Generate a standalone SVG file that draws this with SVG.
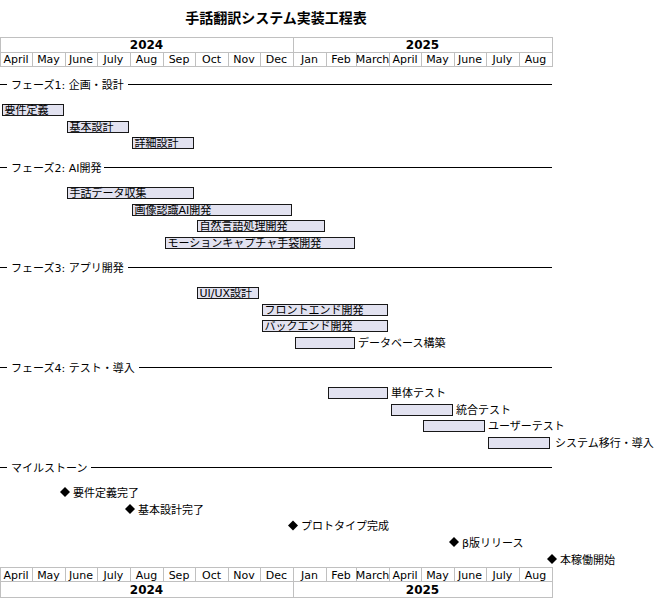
<svg xmlns="http://www.w3.org/2000/svg" width="654" height="599" viewBox="0 0 654 599">
<style>
text{font-family:"DejaVu Sans","Noto Sans CJK JP",sans-serif;fill:#000;font-size:11px}
.title{font-size:14px;font-weight:bold}
.year{font-size:12px;font-weight:bold}
.m{text-anchor:middle}
.grid{stroke:#C0C0C0;stroke-width:1;fill:none}
.sep{stroke:#000;stroke-width:1}
.bar{fill:#E2E2F0;stroke:#181818;stroke-width:1}
.ms{fill:#000}
</style>
<rect width="654" height="599" fill="#fff"/>
<text class="title m" x="276" y="23">手話翻訳システム実装工程表</text>

<g id="header-top">
<rect class="grid" x="0.5" y="37.5" width="552" height="29"/>
<line class="grid" x1="0.5" y1="52.5" x2="552.5" y2="52.5"/>
<line class="grid" x1="293.5" y1="37.5" x2="293.5" y2="66.5"/>
<path class="grid" d="M32.5 52.5V66.5M65.5 52.5V66.5M97.5 52.5V66.5M130.5 52.5V66.5M163.5 52.5V66.5M195.5 52.5V66.5M228.5 52.5V66.5M260.5 52.5V66.5M326.5 52.5V66.5M356.5 52.5V66.5M389.5 52.5V66.5M421.5 52.5V66.5M454.5 52.5V66.5M486.5 52.5V66.5M519.5 52.5V66.5"/>
<text class="year m" x="146.5" y="48.5">2024</text>
<text class="year m" x="422.5" y="48.5">2025</text>
<text class="m" x="16" y="63">April</text><text class="m" x="48.5" y="63">May</text><text class="m" x="81" y="63">June</text><text class="m" x="113.5" y="63">July</text><text class="m" x="146.5" y="63">Aug</text><text class="m" x="179" y="63">Sep</text><text class="m" x="211.5" y="63">Oct</text><text class="m" x="244" y="63">Nov</text><text class="m" x="276.5" y="63">Dec</text><text class="m" x="309.5" y="63">Jan</text><text class="m" x="341" y="63">Feb</text><text class="m" x="372.5" y="63">March</text><text class="m" x="405" y="63">April</text><text class="m" x="437.5" y="63">May</text><text class="m" x="470" y="63">June</text><text class="m" x="502.5" y="63">July</text><text class="m" x="535.5" y="63">Aug</text>
</g>

<g id="header-bottom">
<rect class="grid" x="0.5" y="567.5" width="552" height="30"/>
<line class="grid" x1="0.5" y1="581.5" x2="552.5" y2="581.5"/>
<line class="grid" x1="293.5" y1="567.5" x2="293.5" y2="597.5"/>
<path class="grid" d="M32.5 567.5V581.5M65.5 567.5V581.5M97.5 567.5V581.5M130.5 567.5V581.5M163.5 567.5V581.5M195.5 567.5V581.5M228.5 567.5V581.5M260.5 567.5V581.5M326.5 567.5V581.5M356.5 567.5V581.5M389.5 567.5V581.5M421.5 567.5V581.5M454.5 567.5V581.5M486.5 567.5V581.5M519.5 567.5V581.5"/>
<text class="m" x="16" y="578.5">April</text><text class="m" x="48.5" y="578.5">May</text><text class="m" x="81" y="578.5">June</text><text class="m" x="113.5" y="578.5">July</text><text class="m" x="146.5" y="578.5">Aug</text><text class="m" x="179" y="578.5">Sep</text><text class="m" x="211.5" y="578.5">Oct</text><text class="m" x="244" y="578.5">Nov</text><text class="m" x="276.5" y="578.5">Dec</text><text class="m" x="309.5" y="578.5">Jan</text><text class="m" x="341" y="578.5">Feb</text><text class="m" x="372.5" y="578.5">March</text><text class="m" x="405" y="578.5">April</text><text class="m" x="437.5" y="578.5">May</text><text class="m" x="470" y="578.5">June</text><text class="m" x="502.5" y="578.5">July</text><text class="m" x="535.5" y="578.5">Aug</text>
<text class="year m" x="146.5" y="593.5">2024</text>
<text class="year m" x="422.5" y="593.5">2025</text>
</g>

<g id="separators">
<g id="phase1"><line class="sep" x1="0" y1="84.5" x2="7" y2="84.5"/><text x="11" y="88.5">フェーズ1: 企画・設計</text><line class="sep" x1="128" y1="84.5" x2="552" y2="84.5"/></g>
<g id="phase2"><line class="sep" x1="0" y1="167.5" x2="7" y2="167.5"/><text x="11" y="171.5">フェーズ2: AI開発</text><line class="sep" x1="104" y1="167.5" x2="552" y2="167.5"/></g>
<g id="phase3"><line class="sep" x1="0" y1="267.5" x2="7" y2="267.5"/><text x="11" y="271.5">フェーズ3: アプリ開発</text><line class="sep" x1="128" y1="267.5" x2="552" y2="267.5"/></g>
<g id="phase4"><line class="sep" x1="0" y1="367.5" x2="7" y2="367.5"/><text x="11" y="371.5">フェーズ4: テスト・導入</text><line class="sep" x1="139" y1="367.5" x2="552" y2="367.5"/></g>
<g id="milestones-sep"><line class="sep" x1="0" y1="467.5" x2="7" y2="467.5"/><text x="11" y="471.5">マイルストーン</text><line class="sep" x1="91" y1="467.5" x2="552" y2="467.5"/></g>
</g>

<g id="task-youken"><rect class="bar" x="2.5" y="104.5" width="61" height="11"/><text x="4.5" y="113.5">要件定義</text></g>
<g id="task-kihon"><rect class="bar" x="67.5" y="121.5" width="61" height="11"/><text x="69.5" y="130.5">基本設計</text></g>
<g id="task-shosai"><rect class="bar" x="132.5" y="137.5" width="61" height="11"/><text x="134.5" y="146.5">詳細設計</text></g>

<g id="task-data"><rect class="bar" x="67.5" y="187.5" width="126" height="11"/><text x="69.5" y="196.5">手話データ収集</text></g>
<g id="task-image"><rect class="bar" x="132.5" y="204.5" width="159" height="11"/><text x="134.5" y="213.5">画像認識AI開発</text></g>
<g id="task-nlp"><rect class="bar" x="197.5" y="220.5" width="127" height="11"/><text x="199.5" y="229.5">自然言語処理開発</text></g>
<g id="task-glove"><rect class="bar" x="165.5" y="237.5" width="189" height="11"/><text x="167.5" y="246.5">モーションキャプチャ手袋開発</text></g>

<g id="task-uiux"><rect class="bar" x="197.5" y="287.5" width="61" height="11"/><text x="199.5" y="296.5">UI/UX設計</text></g>
<g id="task-front"><rect class="bar" x="262.5" y="304.5" width="125" height="11"/><text x="264.5" y="313.5">フロントエンド開発</text></g>
<g id="task-back"><rect class="bar" x="262.5" y="320.5" width="125" height="11"/><text x="264.5" y="329.5">バックエンド開発</text></g>
<g id="task-db"><rect class="bar" x="295.5" y="337.5" width="59" height="11"/><text x="358" y="346.5">データベース構築</text></g>

<g id="task-unit"><rect class="bar" x="328.5" y="387.5" width="59" height="11"/><text x="391" y="396.5">単体テスト</text></g>
<g id="task-integ"><rect class="bar" x="391.5" y="404.5" width="61" height="11"/><text x="456" y="413.5">統合テスト</text></g>
<g id="task-user"><rect class="bar" x="423.5" y="420.5" width="61" height="11"/><text x="488" y="429.5">ユーザーテスト</text></g>
<g id="task-migrate"><rect class="bar" x="488.5" y="437.5" width="61" height="11"/><text x="555" y="446.5">システム移行・導入</text></g>

<g id="ms-youken"><polygon class="ms" points="60,492 65,487 70,492 65,497"/><text x="73" y="496.5">要件定義完了</text></g>
<g id="ms-kihon"><polygon class="ms" points="125,509 130,504 135,509 130,514"/><text x="138" y="513.5">基本設計完了</text></g>
<g id="ms-proto"><polygon class="ms" points="288,525.5 293,520.5 298,525.5 293,530.5"/><text x="301" y="530">プロトタイプ完成</text></g>
<g id="ms-beta"><polygon class="ms" points="449,542 454,537 459,542 454,547"/><text x="462" y="546.5">β版リリース</text></g>
<g id="ms-golive"><polygon class="ms" points="547,559 552,554 557,559 552,564"/><text x="560" y="563.5">本稼働開始</text></g>
</svg>
